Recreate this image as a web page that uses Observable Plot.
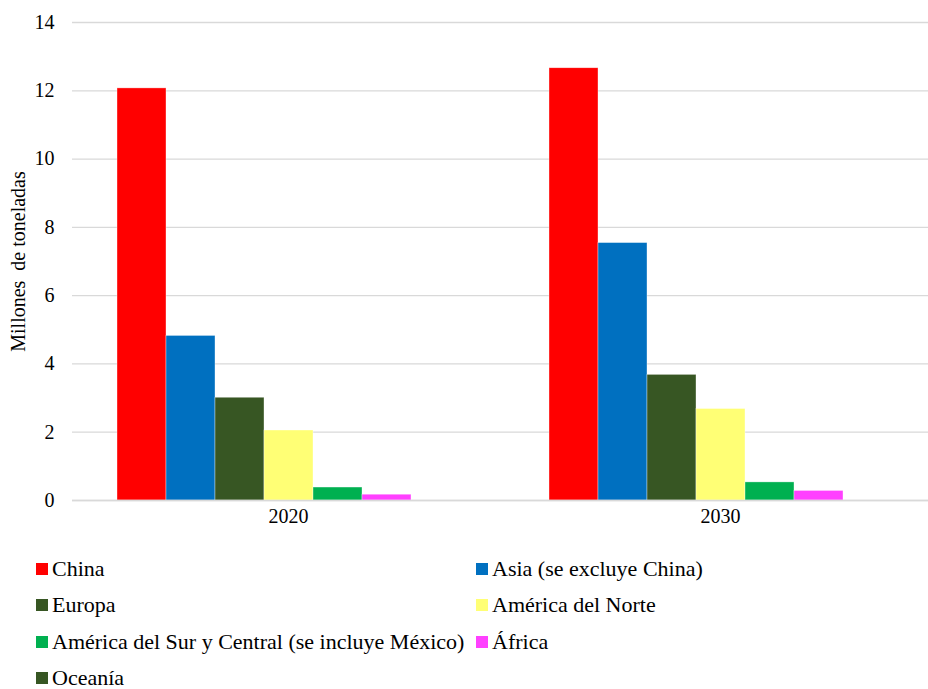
<!DOCTYPE html>
<html>
<head>
<meta charset="utf-8">
<script src="https://cdn.jsdelivr.net/npm/d3@7"></script>
<script src="https://cdn.jsdelivr.net/npm/@observablehq/plot@0.6"></script>
<style>
  body { margin: 0; background: #fff; font-family: "Liberation Serif", "DejaVu Serif", serif; }
  #chart { width: 928px; }
  .legend { display: grid; grid-template-columns: 440px auto; margin-left: 36px; padding-top: 6px; font-size: 22px; color: #000; line-height: 1; }
  .item { display: flex; align-items: center; height: 36.3px; white-space: nowrap; }
  .sw { width: 12px; height: 12px; margin-right: 4px; flex: none; }
</style>
</head>
<body>
<div id="chart"></div>
<script>
const years = ["2020", "2030"];
const regions = ["China", "Asia (se excluye China)", "Europa", "América del Norte", "América del Sur y Central (se incluye México)", "África", "Oceanía"];
const colors = ["#FF0000", "#0070C0", "#375623", "#FFFF75", "#00B050", "#FF40FF", "#375623"];
const values2020 = [12.07, 4.82, 3.01, 2.05, 0.38, 0.17, 0];
const values2030 = [12.66, 7.54, 3.68, 2.68, 0.53, 0.28, 0];
const yTicks = [0, 2, 4, 6, 8, 10, 12, 14];

const data = [];
years.forEach((yr, i) => {
  const vals = i === 0 ? values2020 : values2030;
  regions.forEach((r, j) => data.push({ year: yr, region: r, value: vals[j] }));
});

const serif = "'Liberation Serif', 'DejaVu Serif', serif";
const plot = Plot.plot({
  width: 928,
  height: 545,
  marginLeft: 72,
  marginRight: -8,
  marginTop: 22,
  marginBottom: 45,
  style: { fontFamily: serif, fontSize: "20px", color: "#000", background: "#fff" },
  fx: { domain: years, padding: 0, label: null, tickSize: 0, tickPadding: 8 },
  x: { domain: regions, paddingInner: 0, paddingOuter: 0.908, axis: null },
  y: { domain: [0, 14], ticks: yTicks, label: null },
  color: { domain: regions, range: colors },
  marks: [
    Plot.gridY(yTicks, { stroke: "#d9d9d9", strokeOpacity: 1, strokeWidth: 1.3 }),
    Plot.axisY(yTicks, { tickSize: 0, tickPadding: 18, fontSize: 20, label: "Millones  de toneladas", labelAnchor: "center", labelArrow: "none", labelOffset: 62 }),
    Plot.barY(data, { fx: "year", x: "region", y: "value", fill: "region", stroke: "#ffffff", strokeWidth: 0.6, strokeOpacity: 0.6, inset: 0 }),
    Plot.ruleY([0], { stroke: "#d9d9d9", strokeWidth: 1.3 })
  ]
});
document.getElementById("chart").appendChild(plot);

const legend = d3.select("body").append("div").attr("class", "legend");
regions.forEach((r, i) => {
  const it = legend.append("div").attr("class", "item");
  it.append("span").attr("class", "sw").style("background", colors[i]);
  it.append("span").text(r);
});
</script>
</body>
</html>
